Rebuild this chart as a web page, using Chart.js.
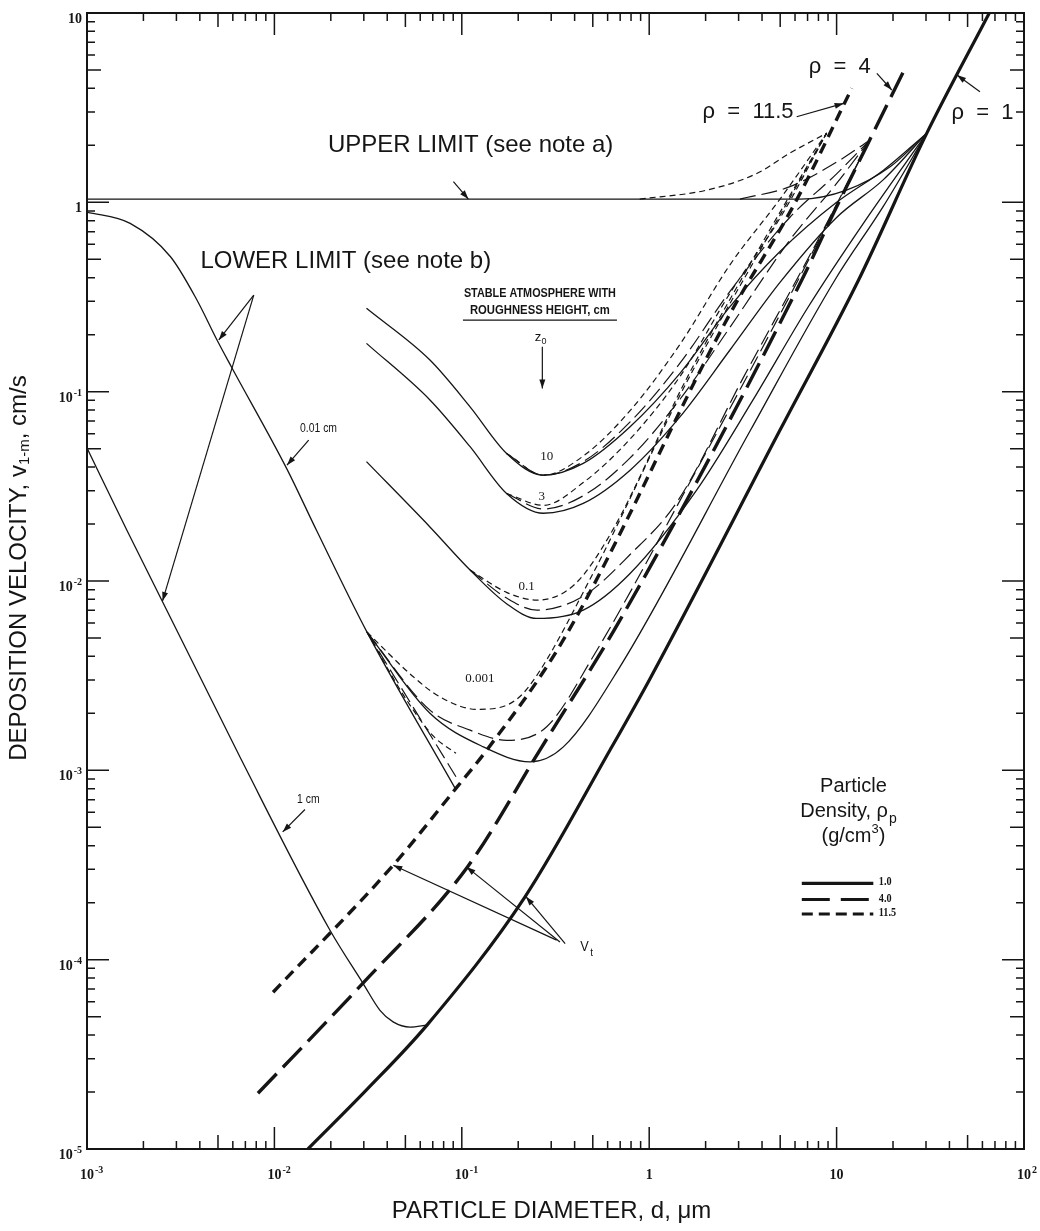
<!DOCTYPE html>
<html>
<head>
<meta charset="utf-8">
<script src="https://cdn.jsdelivr.net/npm/chart.js@4.4.1/dist/chart.umd.min.js"></script>
<style>
  html, body { margin: 0; padding: 0; background: #fff; }
</style>
</head>
<body>
<canvas id="chart" width="1040" height="1231"></canvas>
<script>
// values: [particle diameter um, deposition velocity cm/s]

// terminal settling velocity Vt, one line per density
const vtRho1 = [[0.0151, 1.0e-5], [0.031, 2.05e-5], [0.0652, 4.51e-5], [0.217, 2.14e-4], [0.618, 1.28e-3],
  [1.01, 3.05e-3], [4.99, 0.0627], [13.1, 0.389], [30.3, 2.32], [65.3, 10]];
const vtRho4 = [[0.00817, 1.97e-5], [0.0297, 7.52e-5], [0.107, 3.08e-4], [0.261, 1.28e-3], [0.698, 6.21e-3],
  [6.52, 0.389], [9.62, 0.875], [15.0, 2.13], [23.2, 5.1]];
const vtRho115 = [[0.00984, 6.73e-5], [0.043, 3.15e-4], [0.0942, 8.15e-4], [0.136, 1.28e-3], [0.348, 4.88e-3],
  [2.63, 0.246], [6.12, 1.03], [12.05, 4.0]];

// upper limit
const upperSolid = [[0.001, 1.04], [6.38, 1.04], [11.3, 1.16], [19.3, 1.54], [30.3, 2.32]];
const upperLong = [[3.05, 1.04], [5.64, 1.21], [10.4, 1.67], [15.0, 2.13]];
const upperShort = [[0.89, 1.04], [2.03, 1.16], [3.75, 1.42], [5.64, 1.82], [8.85, 2.32]];

// lower limit, roughness 0.01 cm and 1 cm
const lower001 = [[0.001, 0.889], [0.0017, 0.774], [0.00279, 0.516], [0.00386, 0.305], [0.00494, 0.1875],
  [0.00594, 0.1334], [0.01167, 0.039], [0.01687, 0.0183], [0.0312, 5.37e-3], [0.092, 8.05e-4]];
const lower001Long = [[0.0312, 5.37e-3], [0.0931, 9.25e-4]];
const lower001Short = [[0.0312, 5.37e-3], [0.0501, 2.4e-3], [0.0708, 1.51e-3], [0.0931, 1.23e-3]];
const lower1 = [[0.001, 0.0504], [0.00163, 0.0186], [0.00655, 1.175e-3], [0.0198, 1.43e-4], [0.0297, 7.5e-5],
  [0.0366, 5.4e-5], [0.043, 4.69e-5], [0.053, 4.4e-5], [0.0652, 4.51e-5]];

// stable atmosphere, roughness z0 = 10 cm
const z10Solid = [[0.031, 0.2754], [0.0676, 0.1469], [0.1107, 0.0832], [0.1734, 0.0472], [0.2723, 0.0362],
  [0.4446, 0.0418], [0.7907, 0.0653], [1.459, 0.125], [2.698, 0.2812], [4.989, 0.5495], [10, 1.0],
  [17.78, 1.479], [30.3, 2.32]];
const z10Long = [[0.1734, 0.0472], [0.2723, 0.0362], [0.4446, 0.0427], [0.7907, 0.0692], [1.459, 0.1413],
  [2.698, 0.3388], [5.623, 0.8318], [10, 1.413], [15.0, 2.13]];
const z10Short = [[0.1734, 0.0472], [0.2723, 0.0362], [0.4446, 0.0457], [0.7907, 0.0794], [1.459, 0.1778],
  [2.698, 0.4677], [5.012, 1.047], [8.85, 2.32]];

// z0 = 3 cm
const z3Solid = [[0.031, 0.1799], [0.0676, 0.0904], [0.1107, 0.0512], [0.1734, 0.029], [0.2723, 0.0228],
  [0.4446, 0.0257], [0.7907, 0.0385], [1.459, 0.0736], [2.698, 0.166], [5.012, 0.38], [10, 0.832],
  [17.78, 1.318], [30.3, 2.32]];
const z3Long = [[0.1734, 0.029], [0.2723, 0.024], [0.4446, 0.0282], [0.7907, 0.0447], [1.459, 0.0912],
  [2.698, 0.2188], [5.623, 0.631], [10, 1.259], [15.0, 2.13]];
const z3Short = [[0.1734, 0.029], [0.2723, 0.0251], [0.4446, 0.0331], [0.7907, 0.0562], [1.459, 0.1202],
  [2.698, 0.3311], [5.012, 0.832], [8.85, 2.32]];

// z0 = 0.1 cm
const z01Solid = [[0.031, 0.0427], [0.0676, 0.0193], [0.1107, 0.01143], [0.1734, 7.59e-3], [0.2512, 6.34e-3],
  [0.4446, 7.02e-3], [0.7907, 0.01096], [1.791, 0.0302], [3.548, 0.0891], [7.079, 0.2818], [14.13, 0.794],
  [30.3, 2.32]];
const z01Long = [[0.1107, 0.01143], [0.1734, 8.13e-3], [0.2512, 7.02e-3], [0.4446, 8.32e-3], [0.7907, 0.0138],
  [1.413, 0.0263], [3.162, 0.1175], [7.943, 0.631], [15.0, 2.13]];
const z01Short = [[0.1107, 0.01143], [0.1734, 8.71e-3], [0.2512, 7.93e-3], [0.3981, 9.55e-3], [0.631, 0.0182],
  [1.585, 0.1175], [3.981, 0.6026], [8.85, 2.32]];

// z0 = 0.001 cm
const z0001Solid = [[0.0312, 5.37e-3], [0.0676, 2.0e-3], [0.1303, 1.33e-3], [0.2312, 1.109e-3], [0.3483, 1.33e-3],
  [0.698, 3.52e-3], [3.475, 0.0627], [9.795, 0.389], [17.78, 0.955], [30.3, 2.32]];
const z0001Long = [[0.0312, 5.37e-3], [0.0676, 2.08e-3], [0.1107, 1.63e-3], [0.1734, 1.44e-3], [0.2838, 1.7e-3],
  [0.5012, 3.98e-3], [1.585, 0.0309], [6.31, 0.398], [15.0, 2.13]];
const z0001Short = [[0.0312, 5.37e-3], [0.0551, 3.12e-3], [0.0766, 2.44e-3], [0.1202, 2.1e-3], [0.1807, 2.25e-3],
  [0.2312, 2.82e-3], [0.5012, 0.01096], [1.585, 0.1122], [3.981, 0.5754], [8.85, 2.32]];

// axes
const xDecades = [0.001, 0.01, 0.1, 1, 10, 100];
const xTickLabels = ['10|-3', '10|-2', '10|-1', '1', '10', '10|2'];
const yDecades = [1e-5, 1e-4, 1e-3, 1e-2, 1e-1, 1, 10];
const yTickLabels = ['10|-5', '10|-4', '10|-3', '10|-2', '10|-1', '1', '10'];
const minorSteps = [2, 3, 4, 5, 6, 7, 8, 9];

// legend entries
const densityLabels = ['1.0', '4.0', '11.5'];

const INK = '#151515';
const SANS = '"Liberation Sans", Arial, sans-serif';
const SERIF = '"Liberation Serif", "Times New Roman", serif';

const thickSolid = { borderWidth: 3.2, borderDash: [] };
const thickLong = { borderWidth: 3.4, borderDash: [27, 9] };
const thickShort = { borderWidth: 3.4, borderDash: [11, 7] };
const thinSolid = { borderWidth: 1.3, borderDash: [] };
const thinLong = { borderWidth: 1.2, borderDash: [16, 6] };
const thinShort = { borderWidth: 1.2, borderDash: [6, 4] };

const series = (points, style) => ({
  data: points.map(([x, y]) => ({ x, y })),
  borderColor: INK,
  pointRadius: 0,
  fill: false,
  cubicInterpolationMode: 'monotone',
  ...style
});

// annotation anchors are given in data units and placed through the chart scales
const notes = [
  { text: 'UPPER LIMIT (see note a)', at: [0.0193, 2.01], font: '24px ' + SANS, align: 'left' },
  { text: 'LOWER LIMIT (see note b)', at: [0.00403, 0.485], font: '24px ' + SANS, align: 'left' },
  { text: '0.01 cm', at: [0.0172, 0.064], font: '13px ' + SANS, squeeze: 0.8 },
  { text: '1 cm', at: [0.01517, 7.02e-4], font: '13px ' + SANS, squeeze: 0.8 },
  { text: '10', at: [0.284, 0.0453], font: '13px ' + SERIF },
  { text: '3', at: [0.267, 0.0279], font: '13px ' + SERIF },
  { text: '0.1', at: [0.222, 9.3e-3], font: '13px ' + SERIF },
  { text: '0.001', at: [0.125, 3.04e-3], font: '13px ' + SERIF },
  { text: 'ρ  =  4', at: [10.4, 5.19], font: '22px ' + SANS },
  { text: 'ρ  =  11.5', at: [3.37, 3.0], font: '22px ' + SANS },
  { text: 'ρ  =  1', at: [60.0, 2.95], font: '22px ' + SANS },
  { text: 'Particle', at: [12.3, 8.18e-4], font: '20px ' + SANS }
];

const pointers = [
  { from: [0.0902, 1.285], to: [0.1084, 1.04] },
  { from: [0.00776, 0.3236], to: [0.00505, 0.1875] },
  { from: [0.00776, 0.3236], to: [0.00253, 0.00785] },
  { from: [0.01524, 0.0555], to: [0.01167, 0.0409] },
  { from: [0.01456, 6.21e-4], to: [0.01107, 4.73e-4] },
  { from: [0.269, 0.1726], to: [0.269, 0.104] },
  { from: [0.3206, 1.268e-4], to: [0.0431, 3.15e-4] },
  { from: [0.334, 1.24e-4], to: [0.106, 3.09e-4] },
  { from: [0.356, 1.216e-4], to: [0.22, 2.15e-4] },
  { from: [16.4, 4.8], to: [19.7, 3.92] },
  { from: [6.12, 2.83], to: [10.9, 3.33] },
  { from: [58.2, 3.84], to: [43.9, 4.7] }
];

function drawText(ctx, str, x, y, font, align = 'center', squeeze = 1) {
  ctx.save();
  ctx.font = font;
  ctx.textAlign = align;
  ctx.textBaseline = 'middle';
  ctx.translate(x, y);
  ctx.scale(squeeze, 1);
  ctx.fillText(str, 0, 0);
  ctx.restore();
}

function drawArrow(ctx, x1, y1, x2, y2) {
  ctx.beginPath();
  ctx.moveTo(x1, y1);
  ctx.lineTo(x2, y2);
  ctx.stroke();
  const ang = Math.atan2(y2 - y1, x2 - x1);
  const L = 9, W = 3;
  const c = Math.cos(ang), s = Math.sin(ang);
  ctx.beginPath();
  ctx.moveTo(x2, y2);
  ctx.lineTo(x2 - L * c + W * s, y2 - L * s - W * c);
  ctx.lineTo(x2 - L * c - W * s, y2 - L * s + W * c);
  ctx.closePath();
  ctx.fill();
}

// "10|-3" -> 10 with a raised exponent
function powerLabel(ctx, label, x, y, align) {
  const [base, exp] = label.split('|');
  const baseFont = 'bold 14px ' + SERIF;
  const expFont = 'bold 10px ' + SERIF;
  ctx.font = baseFont;
  const bw = ctx.measureText(base).width;
  ctx.font = expFont;
  const ew = exp ? ctx.measureText(exp).width + 1 : 0;
  let left;
  if (align === 'right') left = x - bw - ew;
  else left = x - bw / 2;
  ctx.textAlign = 'left';
  ctx.textBaseline = 'alphabetic';
  ctx.font = baseFont;
  ctx.fillText(base, left, y);
  if (exp) {
    ctx.font = expFont;
    ctx.fillText(exp, left + bw + 1, y - 6);
  }
}

const figureInk = {
  id: 'figureInk',
  afterDatasetsDraw(chart) {
    const { ctx, chartArea: a, scales } = chart;
    const xs = scales.x, ys = scales.y;
    const px = v => xs.getPixelForValue(v);
    const py = v => ys.getPixelForValue(v);
    ctx.save();
    ctx.strokeStyle = INK;
    ctx.fillStyle = INK;

    // frame
    ctx.lineWidth = 2;
    ctx.strokeRect(a.left, a.top, a.right - a.left, a.bottom - a.top);

    // inward ticks on all four sides
    ctx.lineWidth = 1.5;
    const tickLen = m => (m === 1 ? 22 : m === 5 ? 14 : 8);
    xDecades.forEach((d, i) => {
      [1, ...minorSteps].forEach(m => {
        if (i === xDecades.length - 1 && m > 1) return;
        const x = px(d * m);
        const len = tickLen(m);
        ctx.beginPath();
        ctx.moveTo(x, a.bottom); ctx.lineTo(x, a.bottom - len);
        ctx.moveTo(x, a.top); ctx.lineTo(x, a.top + len);
        ctx.stroke();
      });
    });
    yDecades.forEach((d, i) => {
      [1, ...minorSteps].forEach(m => {
        if (i === yDecades.length - 1 && m > 1) return;
        const y = py(d * m);
        const len = tickLen(m);
        ctx.beginPath();
        ctx.moveTo(a.left, y); ctx.lineTo(a.left + len, y);
        ctx.moveTo(a.right, y); ctx.lineTo(a.right - len, y);
        ctx.stroke();
      });
    });

    // tick labels
    xDecades.forEach((d, i) => powerLabel(ctx, xTickLabels[i], px(d), a.bottom + 30, 'center'));
    yDecades.forEach((d, i) => powerLabel(ctx, yTickLabels[i], a.left - 5, py(d) + 10, 'right'));

    // axis titles
    const xTitle = 'PARTICLE DIAMETER, d, μm';
    drawText(ctx, xTitle, (a.left + a.right) / 2 - 4, a.bottom + 62, '24px ' + SANS);

    ctx.save();
    ctx.translate(19, (a.top + a.bottom) / 2 - 13);
    ctx.rotate(-Math.PI / 2);
    const parts = [
      ['DEPOSITION VELOCITY, v', '24px ' + SANS, 0],
      ['1-m', '15px ' + SANS, 6],
      [', cm/s', '24px ' + SANS, 0]
    ];
    let total = 0;
    parts.forEach(([t, f]) => { ctx.font = f; total += ctx.measureText(t).width; });
    let cx = -total / 2;
    ctx.textAlign = 'left';
    ctx.textBaseline = 'middle';
    parts.forEach(([t, f, dy]) => {
      ctx.font = f;
      ctx.fillText(t, cx, dy);
      cx += ctx.measureText(t).width;
    });
    ctx.restore();

    // plain notes
    notes.forEach(n => drawText(ctx, n.text, px(n.at[0]), py(n.at[1]), n.font, n.align || 'center', n.squeeze || 1));

    // arrows
    ctx.lineWidth = 1.2;
    pointers.forEach(p => drawArrow(ctx, px(p.from[0]), py(p.from[1]), px(p.to[0]), py(p.to[1])));

    // stable atmosphere heading
    const headX = px(0.261);
    const fitText = (str, y, width) => {
      ctx.font = 'bold 13px ' + SANS;
      const w = ctx.measureText(str).width;
      drawText(ctx, str, headX, y, 'bold 13px ' + SANS, 'center', width / w);
    };
    fitText('STABLE ATMOSPHERE WITH', py(0.33), 152);
    fitText('ROUGHNESS HEIGHT, cm', py(0.27), 140);
    ctx.lineWidth = 1.2;
    ctx.beginPath();
    ctx.moveTo(px(0.1014), py(0.2388));
    ctx.lineTo(px(0.673), py(0.2388));
    ctx.stroke();
    drawText(ctx, 'z', headX - 2, py(0.1919) - 1, '13px ' + SANS);
    drawText(ctx, '0', headX + 4, py(0.1919) + 3, '9px ' + SANS);

    // Vt label
    const vtX = px(0.428), vtY = py(1.17e-4);
    drawText(ctx, 'V', vtX, vtY, '15px ' + SANS, 'left', 0.85);
    drawText(ctx, 't', vtX + 10, vtY + 6, '10px ' + SANS, 'left');

    // density key
    const keyX = px(11.5);
    ctx.font = '20px ' + SANS;
    const dMain = 'Density, ρ';
    const dw = ctx.measureText(dMain).width;
    ctx.font = '14px ' + SANS;
    const pw = ctx.measureText('p').width;
    const dLeft = keyX - (dw + pw) / 2;
    drawText(ctx, dMain, dLeft, py(6.04e-4), '20px ' + SANS, 'left');
    drawText(ctx, 'p', dLeft + dw + 1, py(6.04e-4) + 7, '14px ' + SANS, 'left');
    const gx = px(12.3);
    ctx.font = '20px ' + SANS;
    const g1 = '(g/cm', g2 = ')';
    const g1w = ctx.measureText(g1).width, g2w = ctx.measureText(g2).width;
    ctx.font = '13px ' + SANS;
    const sw = ctx.measureText('3').width;
    const gLeft = gx - (g1w + sw + g2w) / 2;
    const gy = py(4.46e-4);
    drawText(ctx, g1, gLeft, gy, '20px ' + SANS, 'left');
    drawText(ctx, '3', gLeft + g1w, gy - 7, '13px ' + SANS, 'left');
    drawText(ctx, g2, gLeft + g1w + sw, gy, '20px ' + SANS, 'left');

    const keyRows = [2.53e-4, 2.08e-4, 1.74e-4];
    const keyStyles = [thickSolid, { borderWidth: 3, borderDash: [28, 11] }, { borderWidth: 3, borderDash: [11, 6] }];
    keyRows.forEach((yv, i) => {
      const y = py(yv);
      ctx.save();
      ctx.lineWidth = keyStyles[i].borderWidth;
      ctx.setLineDash(keyStyles[i].borderDash);
      ctx.beginPath();
      ctx.moveTo(px(6.52), y);
      ctx.lineTo(px(15.7), y);
      ctx.stroke();
      ctx.restore();
      drawText(ctx, densityLabels[i], px(16.8), y - 1, 'bold 12px ' + SERIF, 'left', 0.85);
    });

    ctx.restore();
  }
};

new Chart(document.getElementById('chart'), {
  type: 'line',
  data: {
    datasets: [
      series(upperSolid, thinSolid),
      series(upperLong, thinLong),
      series(upperShort, thinShort),
      series(lower001, thinSolid),
      series(lower001Long, thinLong),
      series(lower001Short, thinShort),
      series(lower1, thinSolid),
      series(z10Solid, thinSolid),
      series(z10Long, thinLong),
      series(z10Short, thinShort),
      series(z3Solid, thinSolid),
      series(z3Long, thinLong),
      series(z3Short, thinShort),
      series(z01Solid, thinSolid),
      series(z01Long, thinLong),
      series(z01Short, thinShort),
      series(z0001Solid, thinSolid),
      series(z0001Long, thinLong),
      series(z0001Short, thinShort),
      series(vtRho1, thickSolid),
      series(vtRho4, thickLong),
      series(vtRho115, thickShort)
    ]
  },
  options: {
    responsive: false,
    animation: false,
    events: [],
    layout: { padding: { top: 13, right: 16, left: 0, bottom: 0 } },
    plugins: { legend: { display: false }, tooltip: { enabled: false } },
    scales: {
      x: {
        type: 'logarithmic',
        min: 0.001,
        max: 100,
        grid: { display: false },
        border: { display: false },
        ticks: { display: false },
        afterFit: s => { s.height = 82; }
      },
      y: {
        type: 'logarithmic',
        min: 1e-5,
        max: 10,
        grid: { display: false },
        border: { display: false },
        ticks: { display: false },
        afterFit: s => { s.width = 87; }
      }
    }
  },
  plugins: [figureInk]
});
</script>
</body>
</html>
